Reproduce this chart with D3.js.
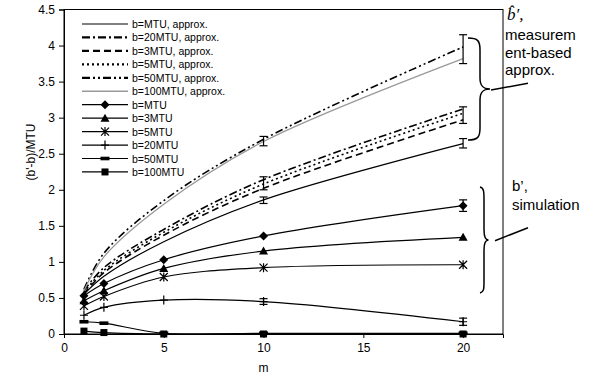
<!DOCTYPE html>
<html>
<head>
<meta charset="utf-8">
<script src="https://cdn.jsdelivr.net/npm/d3@7"></script>
<style>
  body { margin: 0; background: #fff; }
  svg { font-family: "Liberation Sans", Arial, sans-serif; }
</style>
</head>
<body>
<div class="chart"></div>
<script>
// m values used by every series
const mVals = [1, 2, 5, 10, 20]

// measurement-based approximations
const approxMTU = [0.55, 0.80, 1.28, 1.86, 2.64]
const approx20  = [0.60, 0.92, 1.45, 2.14, 3.12]
const approx3   = [0.56, 0.85, 1.37, 2.02, 2.97]
const approx5   = [0.58, 0.88, 1.41, 2.08, 3.06]
const approx50  = [0.62, 1.12, 1.85, 2.70, 3.98]
const approx100 = [0.60, 1.07, 1.80, 2.67, 3.82]

// simulation results
const simMTU = [0.53, 0.70, 1.03, 1.36, 1.78]
const sim3   = [0.46, 0.60, 0.91, 1.15, 1.34]
const sim5   = [0.39, 0.52, 0.79, 0.92, 0.96]
const sim20  = [0.26, 0.37, 0.47, 0.45, 0.17]
const sim50  = [0.17, 0.15, 0.01, 0.01, 0.01]
const sim100 = [0.04, 0.02, 0.00, 0.00, 0.00]

// error bars: m, low, high
const errM  = [10, 10, 10, 10, 20, 20, 20, 20, 20]
const errLo = [2.61, 2.00, 1.81, 0.41, 3.75, 2.92, 2.58, 1.70, 0.12]
const errHi = [2.74, 2.18, 1.90, 0.49, 4.15, 3.15, 2.71, 1.86, 0.22]

const xTicks = [0, 5, 10, 15, 20]
const yTicks = [0, 0.5, 1, 1.5, 2, 2.5, 3, 3.5, 4, 4.5]

const approxNames = ['b=MTU, approx.', 'b=20MTU, approx.', 'b=3MTU, approx.',
  'b=5MTU, approx.', 'b=50MTU, approx.', 'b=100MTU, approx.']
const simNames = ['b=MTU', 'b=3MTU', 'b=5MTU', 'b=20MTU', 'b=50MTU', 'b=100MTU']

const approxSeries = [approxMTU, approx20, approx3, approx5, approx50, approx100]
const simSeries = [simMTU, sim3, sim5, sim20, sim50, sim100]

const approxStyle = [
  { dash: null, w: 1.2, c: '#000' },
  { dash: '8,3,2,3', w: 1.6, c: '#000' },
  { dash: '7,4', w: 1.6, c: '#000' },
  { dash: '2,3', w: 1.6, c: '#000' },
  { dash: '8,3,2,3,2,3', w: 1.6, c: '#000' },
  { dash: null, w: 1.3, c: '#999' }
]
const simMarkers = ['diamond', 'triangle', 'star', 'plus', 'dash', 'square']

const W = 608, H = 376
const pLeft = 64, pRight = 503, pTop = 9.5, pBottom = 334

const svg = d3.select('.chart')
  .append('svg')
    .attr('width', W)
    .attr('height', H)

const x = d3.scaleLinear().domain([0, 22]).range([pLeft, pRight])
const y = d3.scaleLinear().domain([0, 4.5]).range([pBottom, pTop])

// frame
svg.append('rect')
  .attr('x', pLeft).attr('y', pTop)
  .attr('width', pRight - pLeft).attr('height', pBottom - pTop)
  .attr('fill', 'none').attr('stroke', '#000').attr('stroke-width', 1)

const xAxis = svg.append('g')
  .attr('transform', 'translate(0,' + pBottom + ')')
  .call(d3.axisBottom(x).tickValues(xTicks).tickSize(4).tickPadding(5))
const yAxis = svg.append('g')
  .attr('transform', 'translate(' + pLeft + ',0)')
  .call(d3.axisLeft(y).tickValues(yTicks).tickSize(5).tickPadding(4).tickFormat(d3.format('')))

;[xAxis, yAxis].forEach(a => {
  a.select('.domain').attr('stroke', '#000')
  a.selectAll('text').attr('font-size', 12).attr('fill', '#000')
    .attr('font-family', '"Liberation Sans", Arial, sans-serif')
})

svg.append('text')
  .attr('x', (pLeft + 463) / 2).attr('y', 372)
  .attr('text-anchor', 'middle').attr('font-size', 12)
  .text('m')
svg.append('text')
  .attr('transform', 'translate(35,152) rotate(-90)')
  .attr('text-anchor', 'middle').attr('font-size', 12)
  .text("(b'-b)/MTU")

const line = d3.line()
  .x((d, i) => x(mVals[i]))
  .y(d => y(d))
  .curve(d3.curveCatmullRom.alpha(0.5))

// approximation curves
approxSeries.forEach((s, i) => {
  svg.append('path')
    .attr('d', line(s))
    .attr('fill', 'none')
    .attr('stroke', approxStyle[i].c)
    .attr('stroke-width', approxStyle[i].w)
    .attr('stroke-dasharray', approxStyle[i].dash)
})

// simulation curves
simSeries.forEach((s, i) => {
  svg.append('path')
    .attr('d', line(s))
    .attr('fill', 'none')
    .attr('stroke', '#000')
    .attr('stroke-width', 1.2)
})

// error bars
const eb = svg.append('g').attr('stroke', '#000').attr('stroke-width', 1.2)
errM.forEach((m, i) => {
  const cx = x(m)
  eb.append('line').attr('x1', cx).attr('x2', cx).attr('y1', y(errLo[i])).attr('y2', y(errHi[i]))
  eb.append('line').attr('x1', cx - 4).attr('x2', cx + 4).attr('y1', y(errLo[i])).attr('y2', y(errLo[i]))
  eb.append('line').attr('x1', cx - 4).attr('x2', cx + 4).attr('y1', y(errHi[i])).attr('y2', y(errHi[i]))
})

function marker (g, type, cx, cy) {
  if (type === 'diamond') {
    g.append('path').attr('d', `M${cx},${cy - 4.5}L${cx + 4.5},${cy}L${cx},${cy + 4.5}L${cx - 4.5},${cy}Z`)
      .attr('fill', '#000')
  } else if (type === 'triangle') {
    g.append('path').attr('d', `M${cx},${cy - 4.5}L${cx + 4.5},${cy + 3.5}L${cx - 4.5},${cy + 3.5}Z`)
      .attr('fill', '#000')
  } else if (type === 'star') {
    g.append('path').attr('d', `M${cx - 4},${cy - 4}L${cx + 4},${cy + 4}M${cx - 4},${cy + 4}L${cx + 4},${cy - 4}M${cx},${cy - 4.5}L${cx},${cy + 4.5}`)
      .attr('stroke', '#000').attr('stroke-width', 1.2).attr('fill', 'none')
  } else if (type === 'plus') {
    g.append('path').attr('d', `M${cx - 4},${cy}L${cx + 4},${cy}M${cx},${cy - 4.5}L${cx},${cy + 4.5}`)
      .attr('stroke', '#000').attr('stroke-width', 1.2).attr('fill', 'none')
  } else if (type === 'dash') {
    g.append('rect').attr('x', cx - 4.5).attr('y', cy - 1.8).attr('width', 9).attr('height', 3.6)
      .attr('fill', '#000')
  } else if (type === 'square') {
    g.append('rect').attr('x', cx - 3.5).attr('y', cy - 3.5).attr('width', 7).attr('height', 7)
      .attr('fill', '#000')
  }
}

const mk = svg.append('g')
simSeries.forEach((s, i) => {
  s.forEach((v, j) => marker(mk, simMarkers[i], x(mVals[j]), y(v)))
})

// legend
const legend = svg.append('g').attr('font-size', 10.5)
const names = approxNames.concat(simNames)
names.forEach((n, i) => {
  const ly = 24 + i * 13.45
  const ln = legend.append('line')
    .attr('x1', 82).attr('x2', 128).attr('y1', ly).attr('y2', ly)
  if (i < 6) {
    ln.attr('stroke', approxStyle[i].c)
      .attr('stroke-width', approxStyle[i].w + (approxStyle[i].dash ? 0.6 : 0))
      .attr('stroke-dasharray', approxStyle[i].dash)
  } else {
    ln.attr('stroke', '#000').attr('stroke-width', 1.2)
    marker(legend, simMarkers[i - 6], 105, ly)
  }
  legend.append('text')
    .attr('x', 132).attr('y', ly + 4)
    .text(n)
})

// braces with annotations
const ann = svg.append('g').attr('stroke', '#000').attr('fill', 'none').attr('stroke-width', 1.5)
ann.append('path')
  .attr('d', 'M468,38 C478,38 480,41 480,50 L480,78 C480,86 483,89 490,89 C483,89 480,92 480,100 L480,128 C480,137 478,140 468,140')
ann.append('line').attr('x1', 491).attr('y1', 90).attr('x2', 528).attr('y2', 83.3)
ann.append('path')
  .attr('d', 'M480,187 C484,188 484,192 484,200 L484,230 C484,237 485,240 488.5,240 C485,240 484,243 484,250 L484,281 C484,289 484,292 480,293')
ann.append('line').attr('x1', 495).attr('y1', 240.7).attr('x2', 528).attr('y2', 227.7)

const txt = svg.append('g').attr('font-size', 15).attr('fill', '#000')
txt.append('text').attr('x', 507).attr('y', 20)
  .attr('font-family', '"Liberation Serif", "Times New Roman", serif')
  .attr('font-style', 'italic').attr('font-size', 17)
  .text('b\u0302\u2032,')
txt.append('text').attr('x', 505).attr('y', 40).text('measurem')
txt.append('text').attr('x', 505).attr('y', 57.5).text('ent-based')
txt.append('text').attr('x', 505).attr('y', 75).text('approx.')
txt.append('text').attr('x', 512).attr('y', 191).text('b\u2019,')
txt.append('text').attr('x', 512).attr('y', 210).text('simulation')
</script>
</body>
</html>
